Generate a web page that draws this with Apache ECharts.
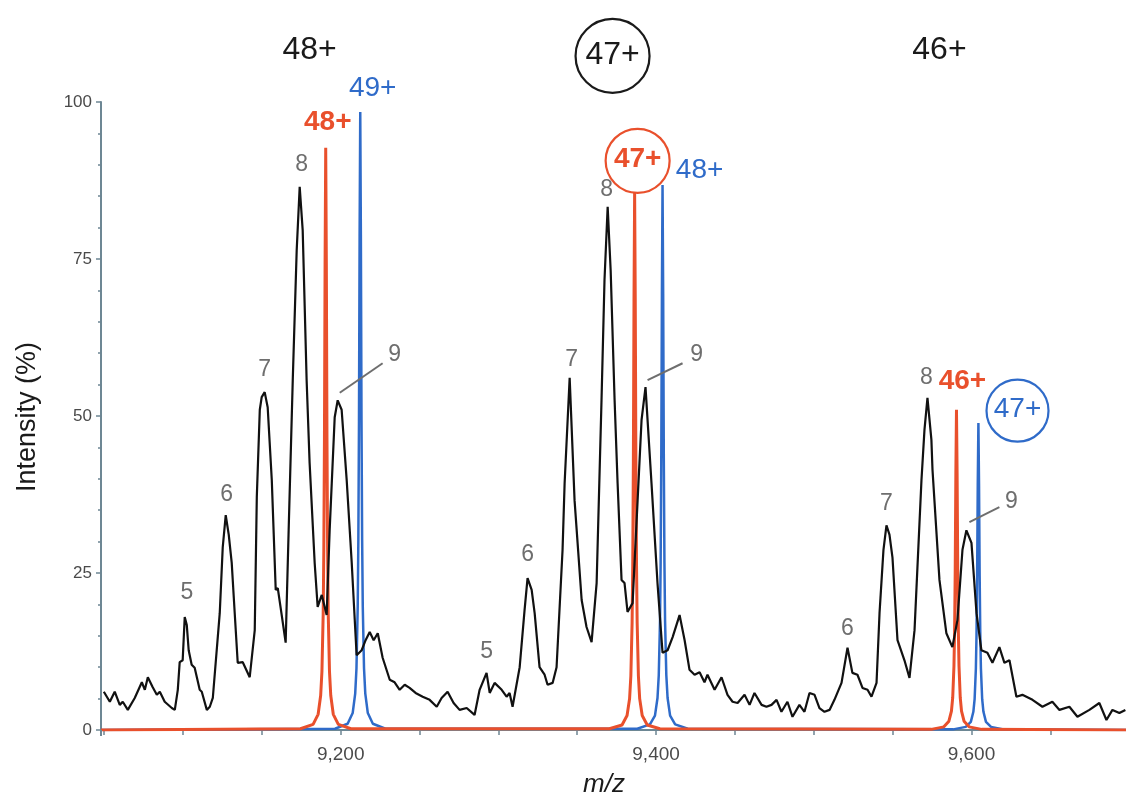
<!DOCTYPE html>
<html>
<head>
<meta charset="utf-8">
<script src="https://cdn.jsdelivr.net/npm/echarts@6/dist/echarts.min.js"></script>
<style>
html,body{margin:0;padding:0;background:#fff;}
#chart{width:1126px;height:801px;}
</style>
</head>
<body>
<div id="chart"></div>
<script>
// ---------- data ----------
const traceMz = [
9049.8,9053.6,9056.7,9059.9,9061.8,9065.0,9069.4,9073.9,9075.8,9077.7,9080.8,9083.4,9085.3,9088.4,9092.9,9094.8,9096.7,9097.9,9099.8,9101.1,9102.4,9103.6,9105.5,9107.4,9110.6,9111.9,9115.1,9117.0,9118.9,
9123.3,9125.2,9127.1,9129.0,9130.9,9132.8,9134.7,9137.9,9142.3,9145.5,9146.8,9148.7,9149.9,9151.8,9153.7,9156.3,9158.8,9160.1,9162.6,9165.1,9167.0,9169.6,9172.1,9174.0,9175.9,9178.4,9180.3,9183.5,9185.4,9188.0,9191.1,9193.0,9196.2,9198.1,9200.6,9203.8,9207.0,9210.1,9213.3,9215.8,9218.4,9220.9,9223.5,9226.6,
9231.1,9234.2,9237.4,9240.6,9243.7,9247.5,9252.0,9256.4,9260.9,9264.0,9267.8,9271.6,9275.4,9279.9,9284.9,9288.1,9292.5,9294.5,9297.6,9302.1,9305.2,9307.1,9309.0,
9313.5,9316.6,9318.5,9321.1,9323.0,9326.1,9329.3,9331.2,9334.4,9336.9,9340.7,9342.0,9345.2,9348.3,9352.8,9355.9,9359.1,9362.3,9365.4,9367.3,9369.3,9371.2,9373.7,9375.6,9378.1,9380.0,9381.9,9385.1,9388.3,9390.8,9393.3,9397.1,9400.9,9404.1,9407.3,9410.5,9414.9,9418.1,9421.2,9424.4,9427.6,9430.7,9432.6,9437.1,9441.5,9445.3,9448.5,9451.7,9456.1,9459.3,9462.4,9466.9,9470.0,9473.2,9476.4,9479.5,9483.3,9486.5,9490.9,9494.1,9497.3,9500.5,9503.6,9506.8,9510.0,9513.1,
9517.6,9521.4,9524.5,9527.7,9530.9,9534.1,9536.6,9539.8,9541.7,9544.2,9546.1,9548.0,9549.9,9553.1,9557.5,9560.7,9563.9,9568.3,9570.2,9572.1,9574.6,9575.3,9579.7,9584.1,9587.9,9591.1,9594.3,9596.8,9600.0,9603.2,9606.3,9610.1,9613.3,9617.7,9620.9,9624.1,9628.5,9632.3,9638.7,9645.0,9651.3,9655.8,9662.1,9667.2,9674.8,9681.1,9685.6,9689.4,9693.8,9697.6
];
const traceIntensity = [
6.1,4.5,6.1,4.0,4.5,3.2,5.1,7.6,6.4,8.4,6.8,5.6,6.1,4.5,3.5,3.2,6.4,10.8,11.1,18.0,16.7,12.7,10.4,9.9,6.4,6.1,3.2,3.7,5.1,
18.6,29.1,34.2,31.1,26.6,18.6,10.7,10.8,8.4,15.9,37.1,51.0,53.0,53.8,51.4,39.8,22.3,22.6,18.3,13.9,31.8,55.7,76.4,86.5,79.6,55.7,42.5,26.6,19.6,21.5,18.3,31.8,49.8,52.5,51.0,39.8,26.6,11.9,12.7,14.3,15.6,14.3,15.4,11.5,
8.0,7.6,6.4,7.2,6.7,5.9,5.3,4.8,3.7,5.1,6.1,4.3,3.2,3.5,2.4,6.4,9.1,5.9,7.5,6.4,5.3,5.9,3.7,
10.0,19.1,24.2,22.3,18.6,10.0,8.8,7.2,7.5,10.0,28.7,39.3,56.1,36.6,20.7,16.4,14.0,23.4,52.5,71.7,83.3,73.2,52.5,39.3,23.9,23.4,18.8,20.2,36.6,49.4,54.6,39.3,23.4,12.3,12.7,14.8,18.3,14.3,9.6,8.8,9.2,7.6,8.8,6.4,8.4,5.6,4.5,4.3,5.6,4.0,5.9,4.0,3.7,4.0,4.8,2.9,4.5,2.1,4.0,2.9,5.9,5.6,3.5,2.9,3.2,4.8,
7.5,13.1,9.1,8.8,6.7,6.4,5.3,7.5,18.6,28.7,32.6,31.1,27.5,14.3,11.1,8.3,15.9,39.8,47.8,52.9,46.2,41.4,23.9,15.4,13.2,17.5,28.7,31.8,29.8,18.6,12.7,12.3,10.7,13.2,10.7,11.1,5.3,5.6,4.8,3.7,4.5,3.2,3.7,2.1,3.2,4.3,1.6,3.2,2.7,3.2
];

// simulated isotope envelope of the red charge series (48+, 47+, 46+)
const redMz = [
9048,9174.5,9182.5,9185.7,9187.3,9188.1,9188.9,9189.3,9189.7,9190.1,9190.5,9190.9,9191.3,9191.7,9192.1,9192.9,9193.7,9195.3,9198.5,9206.5,
9370.4,9378.4,9381.6,9383.2,9384.0,9384.8,9385.2,9385.6,9386.0,9386.4,9386.8,9387.2,9387.6,9388.0,9388.8,9389.6,9391.2,9394.4,9402.4,
9574.5,9582.5,9585.7,9587.3,9588.1,9588.9,9589.3,9589.7,9590.1,9590.5,9590.9,9591.3,9591.7,9592.1,9592.9,9593.7,9595.3,9598.5,9606.5,9698
];
const redIntensity = [
0,0.2,0.9,2.5,5.5,9.3,18.5,28.6,46.4,74.2,92.7,74.2,46.4,28.6,18.5,9.3,5.5,2.5,0.9,0.2,
0.2,0.8,2.3,5.0,8.6,17.1,26.3,42.8,68.4,85.5,68.4,42.8,26.3,17.1,8.6,5.0,2.3,0.8,0.2,
0.1,0.5,1.4,3.0,5.1,10.2,15.7,25.5,40.8,51.0,40.8,25.5,15.7,10.2,5.1,3.0,1.4,0.5,0.1,0
];
// blue charge series (49+, 48+, 47+)
const blueMz = [
9048,9196.4,9204.4,9207.6,9209.2,9210.0,9210.8,9211.2,9211.6,9212.0,9212.4,9212.8,9213.2,9213.6,9214.0,9214.8,9215.6,9217.2,9220.4,9228.4,
9388.1,9396.1,9399.3,9400.9,9401.7,9402.5,9402.9,9403.3,9403.7,9404.1,9404.5,9404.9,9405.3,9405.7,9406.5,9407.3,9408.9,9412.1,9420.1,
9588.4,9596.4,9599.6,9601.2,9602.0,9602.8,9603.2,9603.6,9604.0,9604.4,9604.8,9605.2,9605.6,9606.0,9606.8,9607.6,9609.2,9612.4,9620.4,9698
];
const blueIntensity = [
0,0.2,1.0,2.7,5.8,9.8,19.7,30.3,49.2,78.7,98.4,78.7,49.2,30.3,19.7,9.8,5.8,2.7,1.0,0.2,
0.2,0.9,2.3,5.1,8.7,17.4,26.7,43.4,69.4,86.8,69.4,43.4,26.7,17.4,8.7,5.1,2.3,0.9,0.2,
0.1,0.5,1.3,2.9,4.9,9.8,15.1,24.5,39.1,48.9,39.1,24.5,15.1,9.8,4.9,2.9,1.3,0.5,0.1,0
];

const xTickValues = [9050,9100,9150,9200,9250,9300,9350,9400,9450,9500,9550,9600,9650];
const xLabelValues = [9200,9400,9600];

// charge-state labels: [m/z, intensity, text]
const topLabels = [[9180.3,108.3,'48+'],[9372.4,107.5,'47+'],[9579.7,108.3,'46+']];
const redLabels = [[9191.8,96.7,'48+'],[9388.3,90.8,'47+'],[9594.3,55.6,'46+']];
const blueLabels = [[9220.3,102.2,'49+'],[9427.6,89.2,'48+'],[9629.2,51.0,'47+']];
// isotope/adduct peak numbers
const peakNumbers = [
[9102.4,21.8,'5'],[9127.7,37.4,'6'],[9151.8,57.3,'7'],[9175.3,90.0,'8'],[9234.2,59.7,'9'],
[9292.5,12.4,'5'],[9318.5,27.9,'6'],[9346.4,58.9,'7'],[9368.6,86.0,'8'],[9425.7,59.7,'9'],
[9521.4,16.2,'6'],[9546.1,36.1,'7'],[9571.5,56.1,'8'],[9625.4,36.3,'9']
];
const leaders = [
[[9199.4,53.7],[9226.6,58.4]],
[[9394.6,55.7],[9416.8,58.4]],
[[9598.7,33.1],[9617.7,35.5]]
];

// ---------- chart ----------
const RED = '#e9502c', BLUE = '#2f6bc9', AXIS = '#6d8794';
const FONT = '"Liberation Sans", Arial, Helvetica, sans-serif';
const zip = (a, b) => a.map((v, i) => [v, b[i]]);

const chart = echarts.init(document.getElementById('chart'), null, {renderer: 'canvas'});
const option = {
  animation: false,
  backgroundColor: '#ffffff',
  textStyle: {fontFamily: FONT},
  grid: {left: 101, right: 0, top: 102, bottom: 71, containLabel: false},
  xAxis: {
    type: 'value', min: 9048, max: 9698, offset: 5,
    axisLine: {show: true, lineStyle: {color: AXIS, width: 2}},
    axisTick: {show: true, length: 5, lineStyle: {color: AXIS, width: 1.5}, customValues: xTickValues},
    axisLabel: {customValues: xLabelValues, color: '#4a4a4a', fontSize: 19, margin: 10, fontFamily: FONT,
      formatter: v => v.toLocaleString('en-US')},
    splitLine: {show: false}
  },
  yAxis: {
    type: 'value', min: 0, max: 100, interval: 25,
    axisLine: {show: true, lineStyle: {color: AXIS, width: 2}},
    axisTick: {show: true, length: 5, lineStyle: {color: AXIS, width: 1.5}},
    minorTick: {show: true, splitNumber: 5, length: 3, lineStyle: {color: AXIS, width: 1.5}},
    axisLabel: {color: '#4a4a4a', fontSize: 17, margin: 9, fontFamily: FONT},
    splitLine: {show: false}
  },
  series: [
    {name: 'blue', type: 'line', data: zip(blueMz, blueIntensity), symbol: 'none', silent: true,
     lineStyle: {color: BLUE, width: 2.5}, z: 2},
    {name: 'red', type: 'line', data: zip(redMz, redIntensity), symbol: 'none', silent: true,
     lineStyle: {color: RED, width: 3}, z: 3},
    {name: 'measured', type: 'line', data: zip(traceMz, traceIntensity), symbol: 'none', silent: true,
     lineStyle: {color: '#111111', width: 2.2}, z: 4}
  ]
};
chart.setOption(option);

const px = (p) => chart.convertToPixel({gridIndex: 0}, p);
const g = [];
function addText(p, text, color, size, weight) {
  const [x, y] = px(p);
  g.push({type: 'text', x: x, y: y, z: 100,
    style: {text: text, fill: color, font: (weight || 'normal') + ' ' + size + 'px ' + FONT, align: 'center', verticalAlign: 'middle'}});
}
function addCircle(p, r, color) {
  const [x, y] = px(p);
  g.push({type: 'circle', z: 99, shape: {cx: x, cy: y + 1, r: r}, style: {fill: 'rgba(0,0,0,0)', stroke: color, lineWidth: 2.2}});
}
topLabels.forEach(d => addText([d[0], d[1]], d[2], '#1a1a1a', 32));
addCircle([topLabels[1][0], topLabels[1][1]], 37, '#1a1a1a');
redLabels.forEach(d => addText([d[0], d[1]], d[2], RED, 28, 'bold'));
addCircle([redLabels[1][0], redLabels[1][1]], 32, RED);
blueLabels.forEach(d => addText([d[0], d[1]], d[2], BLUE, 28));
addCircle([blueLabels[2][0], blueLabels[2][1]], 31, BLUE);
peakNumbers.forEach(d => addText([d[0], d[1]], d[2], '#6e6e6e', 23));
leaders.forEach(l => {
  const a = px(l[0]), b = px(l[1]);
  g.push({type: 'line', z: 98, shape: {x1: a[0], y1: a[1], x2: b[0], y2: b[1]}, style: {stroke: '#6e6e6e', lineWidth: 2}});
});
// join the y-axis line down to the offset x-axis line
const origin = px([9048, 0]);
g.push({type: 'line', z: 50, shape: {x1: origin[0], y1: origin[1], x2: origin[0], y2: origin[1] + 6}, style: {stroke: AXIS, lineWidth: 2}});
// axis titles
g.push({type: 'text', x: 28, y: 417, rotation: Math.PI / 2, z: 100,
  style: {text: 'Intensity (%)', fill: '#1a1a1a', font: 'normal 27px ' + FONT, align: 'center', verticalAlign: 'middle'}});
g.push({type: 'text', x: 604, y: 785, z: 100,
  style: {text: 'm/z', fill: '#1a1a1a', font: 'italic 26px ' + FONT, align: 'center', verticalAlign: 'middle'}});
chart.setOption({graphic: g});
</script>
</body>
</html>
